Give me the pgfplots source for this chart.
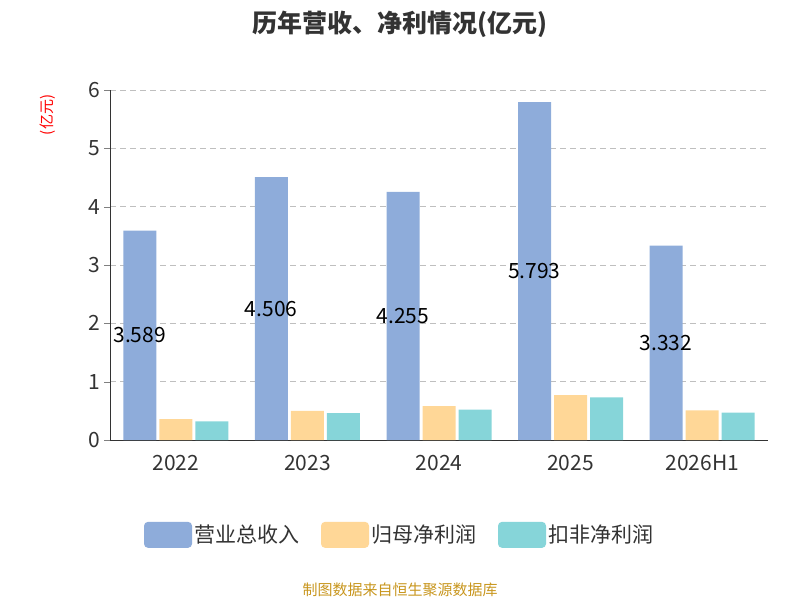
\documentclass[border=0pt]{standalone}
\usepackage{pgfplots}
\pgfplotsset{compat=1.18}
\usepackage{fontspec}
\setmainfont{Noto Sans CJK SC}
\definecolor{cA}{HTML}{8EACDA}
\definecolor{cB}{HTML}{FFD797}
\definecolor{cC}{HTML}{86D5D9}
\definecolor{tx}{HTML}{333333}
\begin{document}
\begin{tikzpicture}[x=1pt,y=1pt]
\useasboundingbox (0,0) rectangle (800,600);
\node[font=\fontsize{25}{27}\selectfont\bfseries,text=tx] at (400,576) {历年营收、净利情况(亿元)};
\node[font=\fontsize{15}{16}\selectfont,text=red,rotate=90] at (48,485) {(亿元)};
\node[font=\fontsize{15}{16}\selectfont,text={rgb,255:red,200;green,150;blue,30}] at (400,10) {制图数据来自恒生聚源数据库};
\begin{axis}[at={(110pt,160pt)},anchor=south west,scale only axis,width=658pt,height=350pt,
 xmin=-0.5,xmax=4.5,ymin=0,ymax=6,
 ybar=3pt,bar width=33pt,
 axis x line*=bottom,axis y line*=left,
 xtick={0,1,2,3,4},xticklabels={2022,2023,2024,2025,2026H1},
 major x tick style={draw=none},
 extra x ticks={-0.5,0.5,1.5,2.5,3.5,4.5},extra x tick labels={},
 extra x tick style={major tick length=6pt,tick style={draw=tx},grid=none},
 ytick={0,1,...,6},ymajorgrids,
 grid style={dash pattern=on 6pt off 4pt,gray!50,line width=1pt},
 tick align=outside,major tick length=6pt,
 xticklabel style={yshift=-6pt},
 tick label style={font=\fontsize{21}{23}\selectfont,text=tx},
 /pgf/number format/assume math mode=true,
 axis line style={tx,line width=0.8pt},
 legend style={at={(0.44,-0.271)},anchor=center,draw=none,legend columns=3,
   font=\fontsize{21}{23}\selectfont,text=tx,/tikz/every even column/.append style={column sep=20pt}},
 legend image code/.code={\fill[#1,draw=none,rounded corners=4pt] (0pt,-13pt) rectangle (48pt,13pt);},
]
\addplot[fill=cA,draw=none] coordinates {(0,3.589)(1,4.506)(2,4.255)(3,5.793)(4,3.332)};
\addplot[fill=cB,draw=none] coordinates {(0,0.36)(1,0.50)(2,0.58)(3,0.77)(4,0.51)};
\addplot[fill=cC,draw=none] coordinates {(0,0.32)(1,0.46)(2,0.52)(3,0.73)(4,0.47)};
\legend{营业总收入,归母净利润,扣非净利润}
\end{axis}
\begin{axis}[at={(110pt,160pt)},anchor=south west,scale only axis,width=658pt,height=350pt,
 xmin=-0.5,xmax=4.5,ymin=0,ymax=6,hide axis,
 nodes near coords,point meta=explicit symbolic,
 every node near coord/.append style={anchor=center,font=\fontsize{21}{23}\selectfont,text=black}]
\addplot[only marks,mark=none] coordinates {(-0.275,1.7945)[3.589](0.725,2.253)[4.506](1.725,2.1275)[4.255](2.725,2.8965)[5.793](3.725,1.666)[3.332]};
\end{axis}
\end{tikzpicture}
\end{document}
